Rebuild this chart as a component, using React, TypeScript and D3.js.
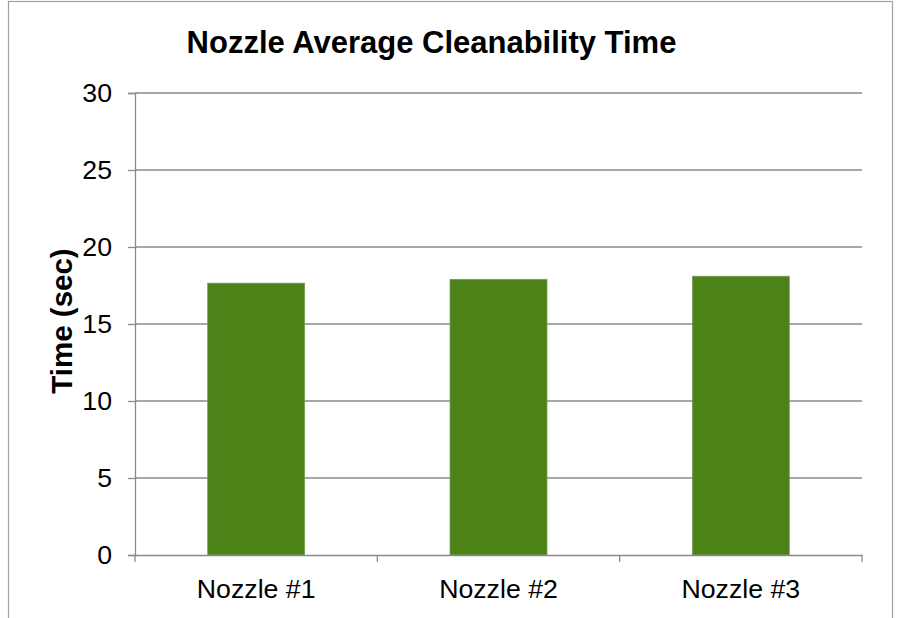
import * as d3 from "d3";
import { useRef, useEffect } from "react";

const categories = ["Nozzle #1", "Nozzle #2", "Nozzle #3"];
const values = [17.65, 17.9, 18.1];
const yTicks = [0, 5, 10, 15, 20, 25, 30];

export default function App() {
  const width = 898;
  const height = 618;
  const marginTop = 93;
  const marginRight = 36;
  const marginBottom = 63;
  const marginLeft = 135;

  const ref = useRef(null);
  useEffect((): void => {
    if (!ref.current) return;
    const svg = d3.select(ref.current);
    svg.selectAll("*").remove();

    const x = d3
      .scaleBand()
      .domain(categories)
      .range([marginLeft, width - marginRight])
      .paddingInner(0)
      .paddingOuter(0);

    const y = d3
      .scaleLinear()
      .domain([0, 30])
      .range([height - marginBottom, marginTop]);

    // outer chart border
    svg
      .append("rect")
      .attr("x", 8.5)
      .attr("y", 1.5)
      .attr("width", 884)
      .attr("height", 660)
      .attr("fill", "#fff")
      .attr("stroke", "#a0a0a0")
      .attr("stroke-width", 1.2);

    // gridlines
    svg
      .append("g")
      .selectAll()
      .data(yTicks.slice(1))
      .join("line")
      .attr("x1", marginLeft)
      .attr("x2", width - marginRight)
      .attr("y1", (d) => y(d))
      .attr("y2", (d) => y(d))
      .attr("stroke", "#8a8a8a")
      .attr("stroke-width", 1.3);

    // bars
    const barW = x.bandwidth() * 0.4;
    svg
      .append("g")
      .selectAll()
      .data(values)
      .join("rect")
      .attr("x", (d, i) => x(categories[i])! + (x.bandwidth() - barW) / 2)
      .attr("y", (d) => y(d))
      .attr("width", barW)
      .attr("height", (d) => y(0) - y(d))
      .attr("fill", "#4d8219")
      .attr("stroke", "#739c52")
      .attr("stroke-width", 0.8);

    // y axis
    const yAxis = svg
      .append("g")
      .attr("transform", `translate(${marginLeft},0)`)
      .call(d3.axisLeft(y).tickValues(yTicks).tickSize(7).tickPadding(16));
    yAxis.select(".domain").attr("stroke", "#8a8a8a").attr("stroke-width", 1.3);
    yAxis.selectAll(".tick line").attr("stroke", "#8a8a8a").attr("stroke-width", 1.3);
    yAxis
      .selectAll(".tick text")
      .attr("font-family", "Liberation Sans, Arial, sans-serif")
      .attr("font-size", 26.7)
      .attr("fill", "#000");

    // x axis
    const xAxis = svg
      .append("g")
      .attr("transform", `translate(0,${y(0)})`)
      .call(d3.axisBottom(x).tickSize(0).tickPadding(24));
    xAxis.select(".domain").attr("stroke", "#8a8a8a").attr("stroke-width", 1.3);
    xAxis
      .selectAll(".tick text")
      .attr("font-family", "Liberation Sans, Arial, sans-serif")
      .attr("font-size", 26.7)
      .attr("fill", "#000");

    // category boundary ticks
    const bounds = [0, 1, 2, 3].map((i) => marginLeft + i * x.step());
    svg
      .append("g")
      .selectAll()
      .data(bounds)
      .join("line")
      .attr("x1", (d) => d)
      .attr("x2", (d) => d)
      .attr("y1", y(0))
      .attr("y2", y(0) + 7)
      .attr("stroke", "#8a8a8a")
      .attr("stroke-width", 1.3);

    // title
    svg
      .append("text")
      .attr("x", 431.5)
      .attr("y", 53)
      .attr("text-anchor", "middle")
      .attr("font-family", "Liberation Sans, Arial, sans-serif")
      .attr("font-weight", "bold")
      .attr("font-size", 31)
      .text("Nozzle Average Cleanability Time");

    // y label
    svg
      .append("text")
      .attr("transform", `translate(72,321) rotate(-90)`)
      .attr("text-anchor", "middle")
      .attr("font-family", "Liberation Sans, Arial, sans-serif")
      .attr("font-weight", "bold")
      .attr("font-size", 29.5)
      .text("Time (sec)");
  }, []);

  return (
    <svg
      ref={ref}
      width={width}
      height={height}
      style={{ position: "absolute", left: 0, top: 0 }}
    />
  );
}
